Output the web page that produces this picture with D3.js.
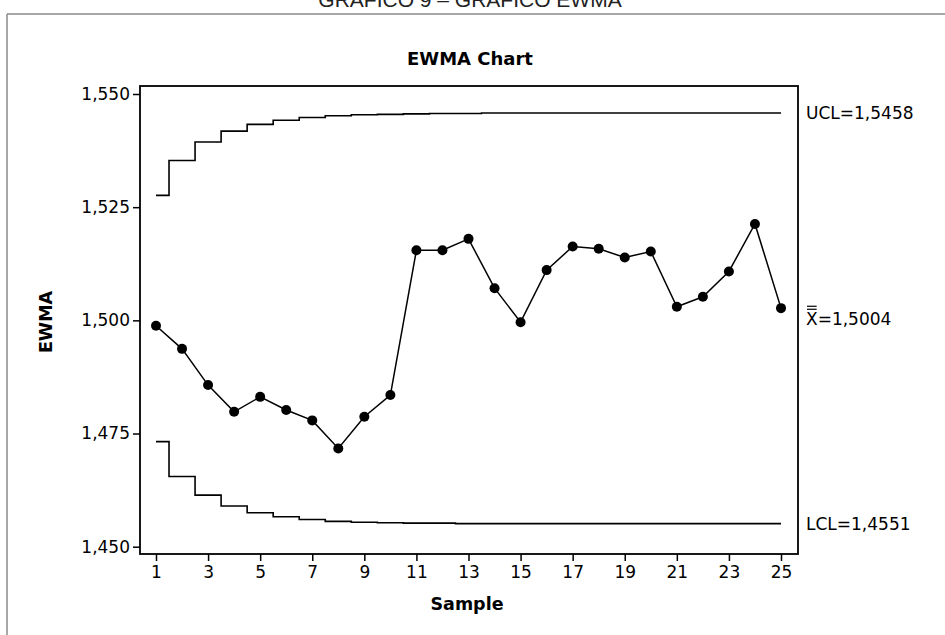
<!DOCTYPE html>
<html><head><meta charset="utf-8">
<script src="https://cdn.jsdelivr.net/npm/d3@7/dist/d3.min.js"></script>
<style>
html,body{margin:0;padding:0;background:#fff;}
svg{display:block;}
</style></head>
<body>
<svg id="chart" width="945" height="635"></svg>
<script>
// ---- data ----
const samples = d3.range(1, 26);
const ewma = [1.4988, 1.4937, 1.4857, 1.4798, 1.4831, 1.4802, 1.4779, 1.4717, 1.4787, 1.4835,
              1.5155, 1.5155, 1.5180, 1.5071, 1.4996, 1.5111, 1.5163, 1.5158, 1.5139, 1.5152,
              1.5030, 1.5052, 1.5108, 1.5213, 1.5027];
const ucl = [1.5276, 1.5353, 1.5394, 1.5418, 1.5433, 1.5442, 1.5448, 1.5452, 1.5454, 1.5455,
             1.5456, 1.5457, 1.5457, 1.5458, 1.5458, 1.5458, 1.5458, 1.5458, 1.5458, 1.5458,
             1.5458, 1.5458, 1.5458, 1.5458, 1.5458];
const lcl = [1.4732, 1.4655, 1.4614, 1.4590, 1.4575, 1.4566, 1.4560, 1.4556, 1.4554, 1.4553,
             1.4552, 1.4552, 1.4551, 1.4551, 1.4551, 1.4551, 1.4551, 1.4551, 1.4551, 1.4551,
             1.4551, 1.4551, 1.4551, 1.4551, 1.4551];
const xTicks = [1, 3, 5, 7, 9, 11, 13, 15, 17, 19, 21, 23, 25];
const yTicks = [1.450, 1.475, 1.500, 1.525, 1.550];
const limitLabels = {ucl: "UCL=1,5458", center: "=1,5004", lcl: "LCL=1,4551"};
const centerValue = 1.5004;
const uclValue = 1.5458, lclValue = 1.4551;
const caption = "GRAFICO 9 – GRAFICO EWMA";
const title = "EWMA Chart";
const xTitle = "Sample", yTitle = "EWMA";

// ---- layout ----
const svg = d3.select("#chart");
const box = {left: 140, right: 798, top: 86, bottom: 554};
const x = d3.scaleLinear().domain([1, 25]).range([156, 781]);
const y = d3.scaleLinear().domain([1.45, 1.55]).range([546.7, 94]);
const loc = d3.formatLocale({decimal: ",", thousands: ".", grouping: [3], currency: ["", ""]});
const fmt = loc.format(".3f");
const FONT = "'DejaVu Sans', Verdana, sans-serif";

// outer page frame (grey)
svg.append("line").attr("x1", 7).attr("x2", 945).attr("y1", 14).attr("y2", 14)
  .attr("stroke", "#8a8a8a").attr("stroke-width", 1.5);
svg.append("line").attr("x1", 7).attr("x2", 7).attr("y1", 14).attr("y2", 635)
  .attr("stroke", "#8a8a8a").attr("stroke-width", 1.5);

// caption (cut at top)
svg.append("text").attr("x", 470).attr("y", 7).attr("text-anchor", "middle")
  .attr("font-family", "'Liberation Sans', Arial, sans-serif").attr("font-size", 21)
  .attr("fill", "#222").text(caption);

// title
svg.append("text").attr("x", 470).attr("y", 65).attr("text-anchor", "middle")
  .attr("font-family", FONT).attr("font-weight", "bold").attr("font-size", 18)
  .text(title);

// axes
const xAxis = d3.axisBottom(x).tickValues(xTicks).tickSize(7).tickPadding(5).tickFormat(d3.format("d"));
const gx = svg.append("g").attr("transform", `translate(0,${box.bottom})`).call(xAxis);
gx.select(".domain").remove();
gx.selectAll("line").attr("stroke", "#000").attr("stroke-width", 1.5);
gx.selectAll("text").attr("font-family", FONT).attr("font-size", 17).attr("fill", "#000");

const yAxis = d3.axisLeft(y).tickValues(yTicks).tickSize(7).tickPadding(3).tickFormat(fmt);
const gy = svg.append("g").attr("transform", `translate(${box.left},0)`).call(yAxis);
gy.select(".domain").remove();
gy.selectAll("line").attr("stroke", "#000").attr("stroke-width", 1.5);
gy.selectAll("text").attr("font-family", FONT).attr("font-size", 17).attr("fill", "#000");

// plot frame
svg.append("rect").attr("x", box.left).attr("y", box.top)
  .attr("width", box.right - box.left).attr("height", box.bottom - box.top)
  .attr("fill", "none").attr("stroke", "#000").attr("stroke-width", 1.8);

// axis titles
svg.append("text").attr("x", 467).attr("y", 610).attr("text-anchor", "middle")
  .attr("font-family", FONT).attr("font-weight", "bold").attr("font-size", 17.5).text(xTitle);
svg.append("text").attr("transform", "translate(52,322) rotate(-90)").attr("text-anchor", "middle")
  .attr("font-family", FONT).attr("font-weight", "bold").attr("font-size", 17.5).text(yTitle);

// control limits (step)
const stepLine = d3.line().x((d, i) => x(samples[i])).y(d => y(d)).curve(d3.curveStep);
[ucl, lcl].forEach(arr => {
  svg.append("path").attr("d", stepLine(arr)).attr("fill", "none")
    .attr("stroke", "#000").attr("stroke-width", 1.6);
});

// EWMA line + points
const line = d3.line().x((d, i) => x(samples[i])).y(d => y(d));
svg.append("path").attr("d", line(ewma)).attr("fill", "none")
  .attr("stroke", "#000").attr("stroke-width", 1.5);
svg.selectAll("circle.pt").data(ewma).enter().append("circle").attr("class", "pt")
  .attr("cx", (d, i) => x(samples[i])).attr("cy", d => y(d)).attr("r", 5).attr("fill", "#000");

// right-side labels
const lx = box.right + 8;
svg.append("text").attr("x", lx).attr("y", y(uclValue)).attr("dy", "0.36em")
  .attr("font-family", FONT).attr("font-size", 17).text(limitLabels.ucl);
svg.append("text").attr("x", lx).attr("y", y(lclValue)).attr("dy", "0.36em")
  .attr("font-family", FONT).attr("font-size", 17).text(limitLabels.lcl);
const ct = svg.append("text").attr("x", lx).attr("y", y(centerValue)).attr("dy", "0.36em")
  .attr("font-family", FONT).attr("font-size", 17);
const xs = ct.append("tspan").text("X");
ct.append("tspan").text(limitLabels.center);
const xw = xs.node().getComputedTextLength();
const capTop = y(centerValue) + 0.36 * 17 - 0.729 * 17;
[capTop - 3, capTop - 6].forEach(yy => {
  svg.append("line").attr("x1", lx + 1).attr("x2", lx + xw - 1).attr("y1", yy).attr("y2", yy)
    .attr("stroke", "#000").attr("stroke-width", 1.2);
});
</script>
</body></html>
